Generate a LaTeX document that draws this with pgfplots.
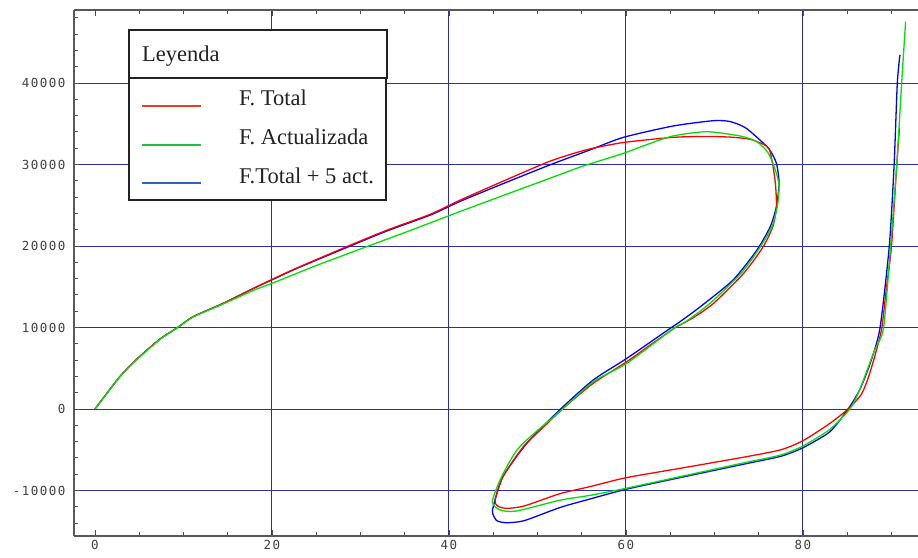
\documentclass[border=0pt]{standalone}
\usepackage{fontspec}
\setmainfont{Liberation Serif}
\newfontfamily\tickfont{DejaVu Sans Mono}[LetterSpace=12.0]
\usepackage{pgfplots}
\pgfplotsset{compat=1.18}

\definecolor{cred}{RGB}{255,0,0}
\definecolor{cgreen}{RGB}{0,225,0}
\definecolor{cblue}{RGB}{0,0,255}
\definecolor{legred}{RGB}{232,64,40}
\definecolor{leggreen}{RGB}{30,190,70}
\definecolor{legblue}{RGB}{50,100,185}
\definecolor{gridnavy}{RGB}{45,45,165}
\definecolor{boxgray}{RGB}{34,34,34}

\begin{document}
\begin{tikzpicture}
\begin{axis}[
    scale only axis,
    width=844pt, height=526pt,
    xmin=-2.37, xmax=93.0,
    ymin=-15580, ymax=48960,
    axis x line=box, axis y line=left,
    axis line style={-, draw=black!65, line width=1.6pt},
    xtick={20,40,60,80},
    extra x ticks={0},
    extra x tick style={grid=none},
    ytick={-10000,10000,20000,30000,40000},
    extra y ticks={0},
    extra y tick style={grid style={draw=black!85!blue, line width=1.6pt}},
    minor xtick={0,5,...,90},
    minor ytick={-14000,-12000,...,48000},
    grid=major,
    major grid style={draw=gridnavy, line width=1pt},
    tick align=inside,
    major tick length=6pt, minor tick length=4pt,
    tick style={draw=black!70, line width=0.9pt},
    scaled ticks=false,
    /pgf/number format/1000 sep={},
    /pgf/number format/assume math mode=true,
    tick label style={font=\tickfont\fontsize{12.5}{14}\selectfont, text=black!75},
    xticklabel style={yshift=-1pt},
    yticklabel style={xshift=-5pt},
    legend style={at={(0.06517,0.87072)}, anchor=north west,
        draw=boxgray, line width=2pt, fill=white, outer sep=0pt,
        inner xsep=12pt, inner ysep=12pt,
        row sep=17.7pt, column sep=37pt,
        font=\fontsize{22.5}{26}\selectfont, text=boxgray,
        nodes={inner sep=0pt, outer sep=0pt, text height=16pt, text depth=5pt}},
    legend cell align=left,
    legend image code/.code={\path (0pt,0pt); \draw[#1] (0pt,-5.5pt) -- (59pt,-5.5pt);},
    every axis plot/.append style={smooth, tension=0.4},
]
\addlegendimage{legred, line width=2pt}
\addlegendentry{F. Total}
\addlegendimage{leggreen, line width=2pt}
\addlegendentry{F. Actualizada}
\addlegendimage{legblue, line width=2pt}
\addlegendentry{F.Total + 5 act.}

% F.Total + 5 act.
\addplot[cblue, line width=1.3pt, forget plot] coordinates {
(0,0) (1.4,2000) (2.8,3960) (4.5,5900) (7.3,8550) (9.2,9900) (11.1,11330)
(14.5,12970) (18,14850) (20,15850) (22.8,17250) (28.4,19800) (33,21850)
(37.9,23800) (41.2,25450) (46,27600) (51.4,29950) (55.9,31780) (59.7,33330)
(65.3,34720) (69.9,35380) (71.8,35260) (73.6,34440) (76.1,31990) (77.0,30150)
(77.3,27700) (77.0,24820) (76.3,22370) (74.8,19510) (72.1,15830) (68.4,12550)
(66.1,10710) (65.0,9900) (60.1,6220) (56.3,3560) (52.5,-120) (48.8,-4210)
(46.1,-8300) (45.0,-11990) (44.94,-12800) (45.4,-13700) (46.5,-13950)
(48.5,-13700) (52.5,-12100) (55.9,-11050) (60,-9850) (66.1,-8420)
(73.6,-6700) (77.5,-5800) (80,-4750) (83.05,-2780) (85.1,0) (86.4,2330)
(87.6,5610) (88.7,9900) (89.75,19920) (90.3,29940) (90.66,39960) (90.96,43440)
};
% F. Total
\addplot[cred, line width=1.3pt, forget plot] coordinates {
(0,0) (1.4,2000) (2.8,3960) (4.5,5900) (7.3,8550) (9.2,9900) (11.1,11330)
(14.5,12970) (18,14850) (20,15900) (22.8,17300) (28.4,19900) (33,21950)
(37.9,23900) (41.2,25600) (46,27900) (51.4,30400) (55.5,31800) (59.7,32700)
(65.3,33330) (69.1,33450) (72,33350) (74,33100) (75.5,32500) (76.2,31900)
(76.6,29900) (76.9,27500) (77.0,24800) (76.6,22400) (75.5,19900) (73.3,16650)
(69.9,12970) (67.6,11200) (65.6,10000) (62.8,7900) (60.1,5810) (56.3,3150)
(52.9,80) (50.5,-2400) (48.4,-4620) (46.1,-8300) (45.2,-11170) (45.5,-11900)
(46.5,-12190) (48.5,-11900) (52.5,-10400) (55.9,-9530) (60,-8430)
(66.1,-7280) (73.6,-5850) (77.5,-5000) (80,-3890) (83.05,-1760) (85.1,0)
(86.6,1800) (87.4,3900) (88.2,6800) (88.9,9900) (89.45,15000) (90.0,19920)
(90.6,29940) (90.9,34440)
};
% F. Actualizada
\addplot[cgreen, line width=1.3pt, forget plot] coordinates {
(0,0) (1.4,2000) (2.8,3960) (4.5,5850) (7.3,8500) (9.2,9900) (11.1,11300)
(14.5,12900) (18,14600) (20,15420) (25,17600) (30.7,19920) (35,21650)
(41.2,24210) (46,26150) (51,28150) (55,29750) (59.7,31370) (62.5,32500)
(65.3,33500) (69.1,34030) (72.9,33500) (74.8,32800) (76.1,31370) (77.0,28920)
(77.3,27280) (77.1,24820) (76.5,22400) (75.2,19920) (73.0,16650) (69.5,12970)
(66.6,10600) (65.4,9900) (60.1,5610) (56.3,3350) (52.5,-330) (48.0,-4620)
(45.95,-8300) (44.9,-11370) (45.8,-12390) (47.6,-12520) (52.5,-11200)
(55.9,-10600) (60,-9730) (66.1,-8300) (73.6,-6540) (77.5,-5640) (80,-4540)
(83.05,-2490) (85.3,0) (86.4,2330) (88.1,7240) (89.1,9900) (89.9,19920)
(90.6,29940) (91.15,39960) (91.6,47520)
};

% legend title cell
\draw[draw=boxgray, line width=2pt, fill=white]
    (rel axis cs:0.06517,0.87072) rectangle (rel axis cs:0.37085,0.96198);
\node[anchor=base west, inner sep=0pt, text=boxgray, font=\fontsize{22.5}{26}\selectfont]
    at (rel axis cs:0.08057,0.90114) {Leyenda};
\end{axis}
\pgfresetboundingbox
\path ([shift={(-74pt,-22pt)}]current axis.south west)
    rectangle ([shift={(0pt,10pt)}]current axis.north east);
\end{tikzpicture}
\end{document}
